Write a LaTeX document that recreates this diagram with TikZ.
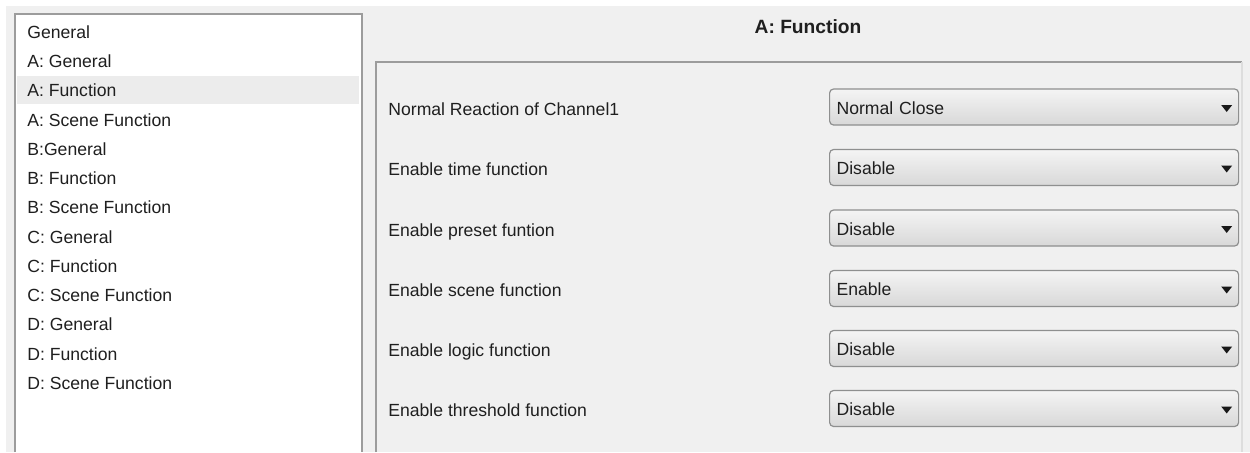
\documentclass[tikz,border=0pt]{standalone}
\usepackage{fontspec}
\setmainfont{Liberation Sans}
\usetikzlibrary{shapes.geometric}
\definecolor{winbg}{HTML}{F0F0F0}
\definecolor{selbg}{HTML}{ECECEC}
\definecolor{edgedark}{HTML}{9C9C9C}
\definecolor{edgelight}{HTML}{DDDDDD}
\definecolor{cbborder}{HTML}{8E8F8F}
\definecolor{cbtop}{HTML}{F4F4F4}
\definecolor{cbbottom}{HTML}{D8D8D8}
\tikzstyle{item}=[anchor=west,inner sep=0pt,text height=6.3pt,text depth=0pt,text=black!88,font=\fontsize{8.8pt}{10pt}\selectfont]
\tikzstyle{combo}=[draw=cbborder,line width=0.6pt,rounded corners=2pt,top color=cbtop,bottom color=cbbottom,anchor=west,minimum width=204.5pt,minimum height=18pt,inner xsep=3.5pt,text width=197.5pt,align=left,text height=7.3pt,text depth=0pt,text=black!88,font=\fontsize{8.8pt}{10pt}\selectfont]
\tikzstyle{arrowtip}=[fill=black!90]

\begin{document}
\begin{tikzpicture}[x=0.5pt,y=-0.5pt]
\useasboundingbox (0,0) rectangle (1250,452);
% window background
\fill[white] (0,0) rectangle (1250,452);
\fill[winbg] (6,6) rectangle (1250,452);
% left list
\fill[white] (15,14) rectangle (362,452);
\fill[selbg] (17,76) rectangle (359,104);
\draw[edgedark,line width=0.8pt] (15,452) -- (15,14) -- (362,14) -- (362,452);
\node (l1)  [item] at (27,32)     {General};
\node (l2)  [item] at (27,61.25)  {A: General};
\node (l3)  [item] at (27,90.5)   {A: Function};
\node (l4)  [item] at (27,119.75) {A: Scene Function};
\node (l5)  [item] at (27,149)    {B:General};
\node (l6)  [item] at (27,178.25) {B: Function};
\node (l7)  [item] at (27,207.5)  {B: Scene Function};
\node (l8)  [item] at (27,236.75) {C: General};
\node (l9)  [item] at (27,266)    {C: Function};
\node (l10) [item] at (27,295.25) {C: Scene Function};
\node (l11) [item] at (27,324.5)  {D: General};
\node (l12) [item] at (27,353.75) {D: Function};
\node (l13) [item] at (27,383)    {D: Scene Function};
% title
\node (title) [item,anchor=center,font=\fontsize{9.6pt}{11pt}\selectfont\bfseries,text height=6.9pt] at (808,26.7) {A: Function};
% parameter panel
\draw[edgedark,line width=1pt] (376,452) -- (376,62) -- (1242,62);
\draw[edgelight,line width=0.8pt] (1242,62) -- (1242,452);
\node (p1) [item] at (388,109)   {Normal Reaction of Channel1};
\node (p2) [item] at (388,169.5) {Enable time function};
\node (p3) [item] at (388,230)   {Enable preset funtion};
\node (p4) [item] at (388,290.5) {Enable scene function};
\node (p5) [item] at (388,350.5) {Enable logic function};
\node (p6) [item] at (388,410.5) {Enable threshold function};
\node (cb1) [combo] at (829,107)   {Normal Close};
\node (cb2) [combo] at (829,167.5) {Disable};
\node (cb3) [combo] at (829,228)   {Disable};
\node (cb4) [combo] at (829,288.5) {Enable};
\node (cb5) [combo] at (829,348.5) {Disable};
\node (cb6) [combo] at (829,408.5) {Disable};
% drop-down arrows
\fill[arrowtip] ([shift={(-18,-2)}]cb1.east) -- ([shift={(-7,-2)}]cb1.east) -- ([shift={(-12.5,5)}]cb1.east) -- cycle;
\fill[arrowtip] ([shift={(-18,-2)}]cb2.east) -- ([shift={(-7,-2)}]cb2.east) -- ([shift={(-12.5,5)}]cb2.east) -- cycle;
\fill[arrowtip] ([shift={(-18,-2)}]cb3.east) -- ([shift={(-7,-2)}]cb3.east) -- ([shift={(-12.5,5)}]cb3.east) -- cycle;
\fill[arrowtip] ([shift={(-18,-2)}]cb4.east) -- ([shift={(-7,-2)}]cb4.east) -- ([shift={(-12.5,5)}]cb4.east) -- cycle;
\fill[arrowtip] ([shift={(-18,-2)}]cb5.east) -- ([shift={(-7,-2)}]cb5.east) -- ([shift={(-12.5,5)}]cb5.east) -- cycle;
\fill[arrowtip] ([shift={(-18,-2)}]cb6.east) -- ([shift={(-7,-2)}]cb6.east) -- ([shift={(-12.5,5)}]cb6.east) -- cycle;
\end{tikzpicture}
\end{document}
